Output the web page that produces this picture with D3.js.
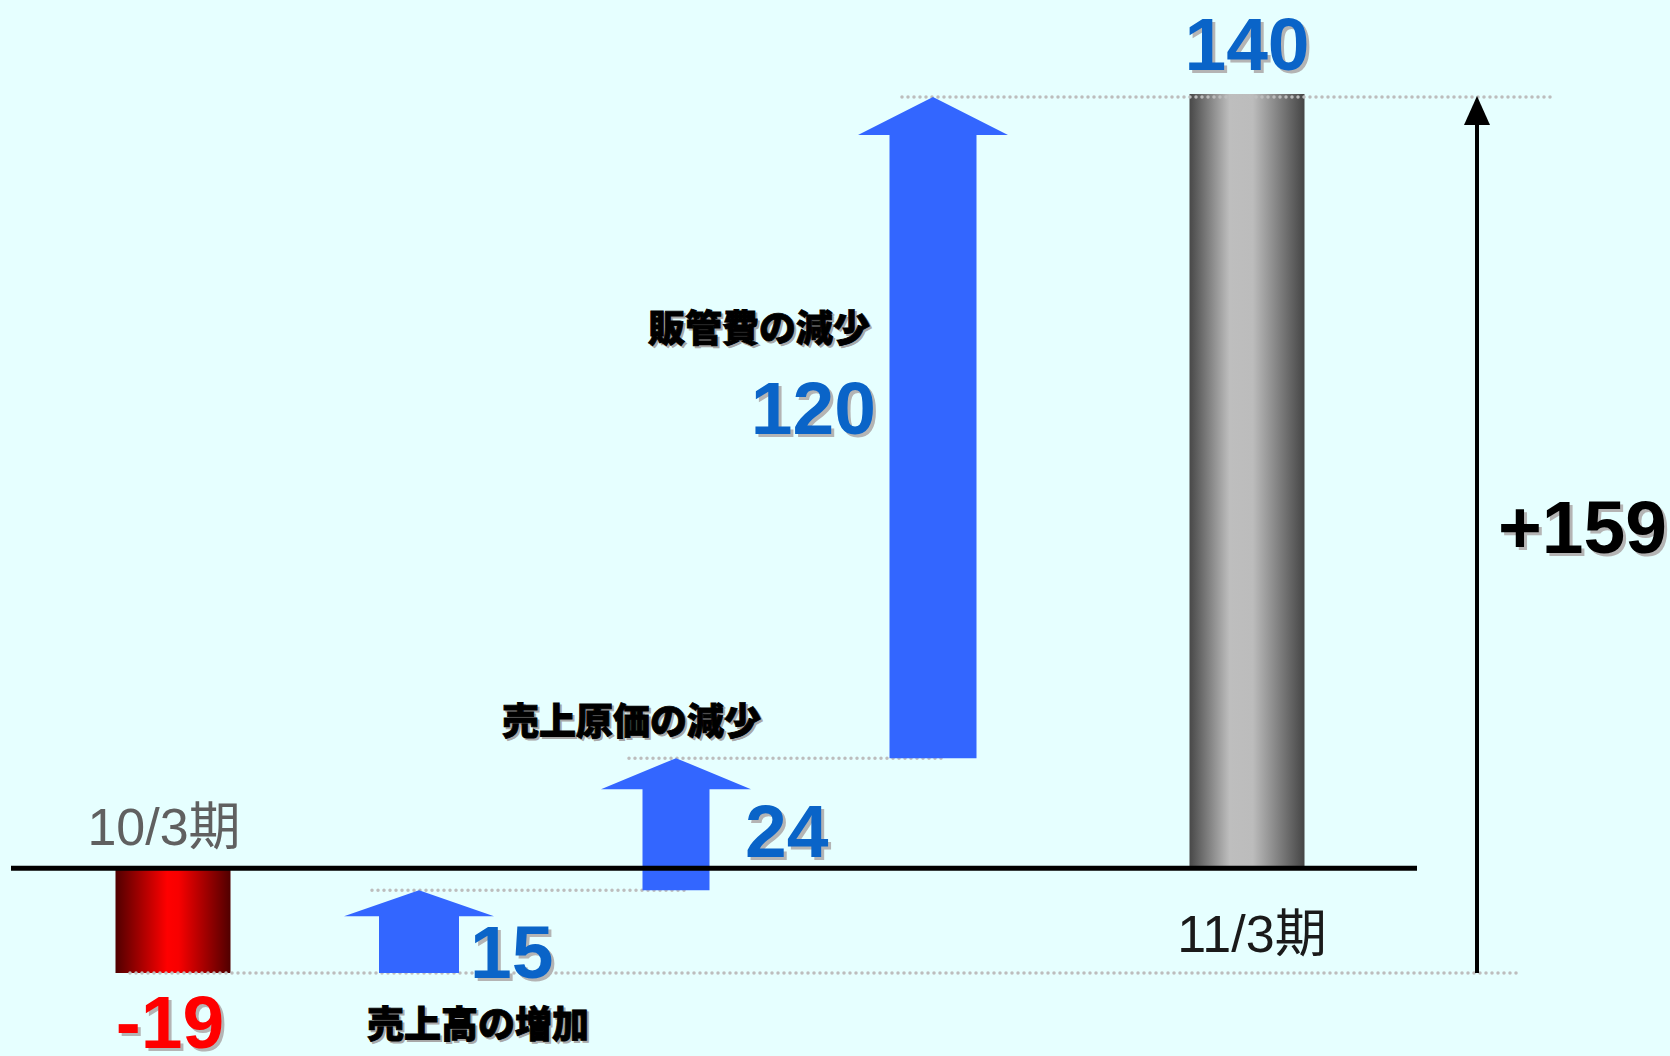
<!DOCTYPE html>
<html>
<head>
  <meta charset="utf-8">
  <script src="https://d3js.org/d3.v7.min.js"></script>
  <style>
    body { margin: 0; background: #e6ffff; }
    svg { display: block; }
    .num { font-family: "Liberation Sans", Arial, sans-serif; font-weight: bold; font-size: 75px; }
    .jp { font-family: "Noto Sans CJK JP", sans-serif; font-weight: 900; font-size: 37px; stroke-width: 0.9px; }
    .period { font-family: "Liberation Sans", Arial, "Noto Sans CJK JP", sans-serif; font-size: 52px; }
  </style>
</head>
<body>
<div id="chart"></div>
<script>
// data
var categories = ["10/3期", "売上高の増加", "売上原価の減少", "販管費の減少", "11/3期"];
var values = [-19, 15, 24, 120, 140];
var kinds = ["total", "delta", "delta", "delta", "total"];

var width = 1670, height = 1056;

// layout (hand placed, like the original slide)
var centers = [173, 419, 676, 933, 1247];
var barWidth = 115;
var arrowShape = [
  { shaft: 80, head: 150, headH: 26 },
  { shaft: 67, head: 150, headH: 31 },
  { shaft: 87, head: 150, headH: 38 }
];
var totalArrowX = 1477;

var x = d3.scaleOrdinal().domain(categories).range(centers);
var y = d3.scaleLinear().domain([-19, 140]).range([973, 97]);

// running levels of the waterfall
var steps = [];
var level = 0;
categories.forEach(function(c, i) {
  if (kinds[i] === "total") {
    steps.push({ cat: c, value: values[i], from: 0, to: values[i], kind: "total" });
    level = values[i];
  } else {
    steps.push({ cat: c, value: values[i], from: level, to: level + values[i], kind: "delta" });
    level += values[i];
  }
});

var svg = d3.select("#chart").append("svg")
  .attr("width", width)
  .attr("height", height);

svg.append("rect")
  .attr("width", width)
  .attr("height", height)
  .attr("fill", "#e6ffff");

var defs = svg.append("defs");
function hGradient(id, stops) {
  var g = defs.append("linearGradient").attr("id", id)
    .attr("x1", "0%").attr("x2", "100%").attr("y1", "0%").attr("y2", "0%");
  stops.forEach(function(s) {
    g.append("stop").attr("offset", s[0]).attr("stop-color", s[1]);
  });
}
hGradient("redGrad", [["0%", "#500000"], ["45%", "#ff0000"], ["55%", "#f80000"], ["100%", "#500000"]]);
hGradient("grayGrad", [["0%", "#484848"], ["35%", "#bebebe"], ["55%", "#bcbcbc"], ["100%", "#454545"]]);

// total bars
var totals = steps.filter(function(d) { return d.kind === "total"; });
svg.selectAll(".bar")
  .data(totals)
  .enter().append("rect")
  .attr("class", "bar")
  .attr("x", function(d) { return x(d.cat) - barWidth / 2; })
  .attr("width", barWidth)
  .attr("y", function(d) { return y(Math.max(0, d.to)) - (d.to > 0 ? 3 : 0); })
  .attr("height", function(d) { return Math.abs(y(d.to) - y(0)) + (d.to > 0 ? 3 : 0); })
  .attr("fill", function(d) { return d.value < 0 ? "url(#redGrad)" : "url(#grayGrad)"; });

// dotted connector lines
var first = steps[0], last = steps[steps.length - 1];
var guides = [
  { level: first.to, x1: x(first.cat) - 43, x2: totalArrowX + 44 },
  { level: steps[1].to, x1: x(steps[1].cat) - 47, x2: x(steps[2].cat) + 12 },
  { level: steps[2].to, x1: x(steps[2].cat) - 47, x2: x(steps[3].cat) + 12 },
  { level: steps[3].to, x1: x(steps[3].cat) - 31, x2: totalArrowX + 76 }
];
svg.selectAll(".guide")
  .data(guides)
  .enter().append("line")
  .attr("class", "guide")
  .attr("x1", function(d) { return d.x1; })
  .attr("x2", function(d) { return d.x2; })
  .attr("y1", function(d) { return y(d.level); })
  .attr("y2", function(d) { return y(d.level); })
  .attr("stroke", "#bdbdbd")
  .attr("stroke-width", 3.5)
  .attr("stroke-linecap", "round")
  .attr("stroke-dasharray", "0,6");

// block arrows for the changes
var deltas = steps.filter(function(d) { return d.kind === "delta"; });
svg.selectAll(".arrow")
  .data(deltas)
  .enter().append("path")
  .attr("class", "arrow")
  .attr("fill", "#3366ff")
  .attr("d", function(d, i) {
    var s = arrowShape[i];
    var cx = x(d.cat), yb = y(d.from), yt = y(d.to), ys = yt + s.headH;
    return "M" + (cx - s.shaft / 2) + "," + yb +
      "L" + (cx - s.shaft / 2) + "," + ys +
      "L" + (cx - s.head / 2) + "," + ys +
      "L" + cx + "," + yt +
      "L" + (cx + s.head / 2) + "," + ys +
      "L" + (cx + s.shaft / 2) + "," + ys +
      "L" + (cx + s.shaft / 2) + "," + yb + "Z";
  });

// zero line
svg.append("line")
  .attr("x1", 11).attr("x2", 1417)
  .attr("y1", y(0)).attr("y2", y(0))
  .attr("stroke", "#000")
  .attr("stroke-width", 5);

// total change arrow
svg.append("line")
  .attr("x1", totalArrowX).attr("x2", totalArrowX)
  .attr("y1", y(first.to)).attr("y2", y(last.to) + 26)
  .attr("stroke", "#000")
  .attr("stroke-width", 4);
svg.append("path")
  .attr("fill", "#000")
  .attr("d", "M" + (totalArrowX - 13) + "," + (y(last.to) + 28) +
    "L" + totalArrowX + "," + (y(last.to) - 1) +
    "L" + (totalArrowX + 13) + "," + (y(last.to) + 28) + "Z");

function shadowText(sel, dx, dy, shadowColor, color) {
  sel.each(function(d) {
    var g = d3.select(this);
    g.append("text")
      .attr("class", d.cls)
      .attr("x", d.x + dx).attr("y", d.y + dy)
      .attr("text-anchor", d.anchor)
      .attr("dominant-baseline", d.base || "auto")
      .attr("fill", shadowColor)
      .attr("stroke", d.cls === "jp" ? shadowColor : "none")
      .text(d.text);
    g.append("text")
      .attr("class", d.cls)
      .attr("x", d.x).attr("y", d.y)
      .attr("text-anchor", d.anchor)
      .attr("dominant-baseline", d.base || "auto")
      .attr("fill", d.color || color)
      .attr("stroke", d.cls === "jp" ? (d.color || color) : "none")
      .text(d.text);
  });
}

// value labels (plain hyphen for the minus sign, as on the slide)
var fmt = function(v) { return String(v); };
var valuePos = [
  { anchor: "middle", dx: -3, y: function(d) { return y(d.to) + 75; } },
  { anchor: "start", dx: 51, y: function(d) { return y(d.from) + 5; } },
  { anchor: "start", dx: 69, y: function(d) { return y(d.to) + 99; } },
  { anchor: "end", dx: -57, y: function(d) { return y(d.to) + 337; } },
  { anchor: "middle", dx: 0, y: function(d) { return y(d.to) - 27; } }
];
var valueLabels = steps.map(function(d, i) {
  return {
    cls: "num", text: fmt(d.value), anchor: valuePos[i].anchor,
    x: x(d.cat) + valuePos[i].dx, y: valuePos[i].y(d),
    color: d.value < 0 ? "#ff0000" : "#0a64c8"
  };
});
svg.selectAll(".vlab")
  .data(valueLabels)
  .enter().append("g")
  .attr("class", "vlab")
  .call(shadowText, 3, 3, "#b4b4b4");

// step labels (Japanese)
var catPos = [
  null,
  { anchor: "start", dx: -52, y: function(d) { return y(d.from) + 49; } },
  { anchor: "start", dx: -174, y: function(d) { return y(d.to) - 39; } },
  { anchor: "end", dx: -63, y: function(d) { return y(d.to) + 229; } },
  null
];
var catLabels = steps.map(function(d, i) {
  if (!catPos[i]) return null;
  return {
    cls: "jp", text: d.cat, anchor: catPos[i].anchor, base: "central",
    x: x(d.cat) + catPos[i].dx, y: catPos[i].y(d)
  };
}).filter(Boolean);
svg.selectAll(".clab")
  .data(catLabels)
  .enter().append("g")
  .attr("class", "clab")
  .call(shadowText, 2, 2, "#a8a8a8", "#000");

// period labels
svg.append("text")
  .attr("class", "period")
  .attr("x", x(first.cat) - 9).attr("y", y(0) - 23)
  .attr("text-anchor", "middle")
  .attr("fill", "#606060")
  .text(first.cat);
svg.append("text")
  .attr("class", "period")
  .attr("x", x(last.cat) + 5).attr("y", y(0) + 84)
  .attr("text-anchor", "middle")
  .attr("fill", "#1a1a1a")
  .text(last.cat);

// total change label
var change = last.to - first.to;
svg.selectAll(".tlab")
  .data([{ cls: "num", text: d3.format("+d")(change), anchor: "start",
    x: totalArrowX + 21, y: (y(first.to) + y(last.to)) / 2 + 18, color: "#000" }])
  .enter().append("g")
  .attr("class", "tlab")
  .call(shadowText, 3, 3, "#b4b4b4");
</script>
</body>
</html>
